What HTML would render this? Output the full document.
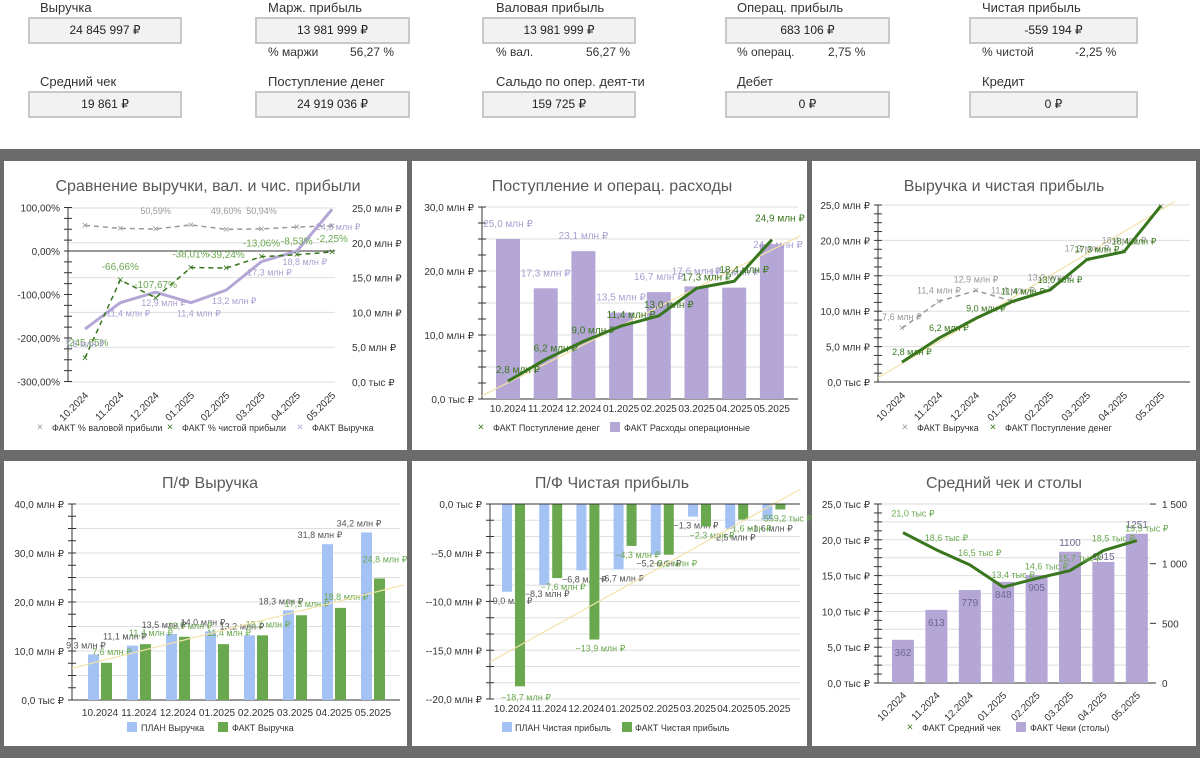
<!DOCTYPE html>
<html><head><meta charset="utf-8">
<style>
body{margin:0;width:1200px;height:758px;background:#fff;position:relative;overflow:hidden;font-family:"Liberation Sans","DejaVu Sans",sans-serif;color:#222}
.lbl{position:absolute;font-size:13px;color:#333}
.box{position:absolute;height:23px;background:#f2f2f2;border:2px solid #c8c8c8;font-size:12px;text-align:center;line-height:23px;color:#222}
.band{position:absolute;background:#6b6b6b}
svg{position:absolute;left:0;top:0}
</style></head><body>
<div class="lbl" style="left:40px;top:0px">Выручка</div>
<div class="box" style="left:28px;top:17px;width:150px">24 845 997 ₽</div>
<div class="lbl" style="left:268px;top:0px">Марж. прибыль</div>
<div class="box" style="left:255px;top:17px;width:151px">13 981 999 ₽</div>
<div class="lbl" style="left:268px;top:45px;font-size:12px">% маржи</div>
<div class="lbl" style="left:350px;top:45px;font-size:12px">56,27 %</div>
<div class="lbl" style="left:496px;top:0px">Валовая прибыль</div>
<div class="box" style="left:482px;top:17px;width:150px">13 981 999 ₽</div>
<div class="lbl" style="left:496px;top:45px;font-size:12px">% вал.</div>
<div class="lbl" style="left:586px;top:45px;font-size:12px">56,27 %</div>
<div class="lbl" style="left:737px;top:0px">Операц. прибыль</div>
<div class="box" style="left:725px;top:17px;width:161px">683 106 ₽</div>
<div class="lbl" style="left:737px;top:45px;font-size:12px">% операц.</div>
<div class="lbl" style="left:828px;top:45px;font-size:12px">2,75 %</div>
<div class="lbl" style="left:982px;top:0px">Чистая прибыль</div>
<div class="box" style="left:969px;top:17px;width:165px">-559 194 ₽</div>
<div class="lbl" style="left:982px;top:45px;font-size:12px">% чистой</div>
<div class="lbl" style="left:1075px;top:45px;font-size:12px">-2,25 %</div>
<div class="lbl" style="left:40px;top:74px">Средний чек</div>
<div class="box" style="left:28px;top:91px;width:150px">19 861 ₽</div>
<div class="lbl" style="left:268px;top:74px">Поступление денег</div>
<div class="box" style="left:255px;top:91px;width:151px">24 919 036 ₽</div>
<div class="lbl" style="left:496px;top:74px">Сальдо по опер. деят-ти</div>
<div class="box" style="left:482px;top:91px;width:150px">159 725 ₽</div>
<div class="lbl" style="left:737px;top:74px">Дебет</div>
<div class="box" style="left:725px;top:91px;width:161px">0 ₽</div>
<div class="lbl" style="left:982px;top:74px">Кредит</div>
<div class="box" style="left:969px;top:91px;width:165px">0 ₽</div>

<div class="band" style="left:0;top:149px;width:1200px;height:12px"></div>
<div class="band" style="left:0;top:450px;width:1200px;height:11px"></div>
<div class="band" style="left:0;top:746px;width:1200px;height:12px"></div>
<div class="band" style="left:407px;top:149px;width:5px;height:609px"></div>
<div class="band" style="left:807px;top:149px;width:5px;height:609px"></div>
<div class="band" style="left:1196px;top:149px;width:4px;height:609px"></div>
<div class="band" style="left:0;top:149px;width:4px;height:609px"></div>

<svg id="c" width="1200" height="758" font-family="Liberation Sans, DejaVu Sans, sans-serif"></svg>
<script>
const cats=['10.2024','11.2024','12.2024','01.2025','02.2025','03.2025','04.2025','05.2025'];
// chart 1
const c1Gross=[59,52,50.59,60,49.60,50.94,55,58];
const c1Net=[-245.65,-66.66,-107.67,-38.01,-39.24,-13.06,-8.53,-2.25];
const c1Rev=[7.6,11.4,12.9,11.4,13.2,17.3,18.8,24.8];
const c1LeftTicks=[100,0,-100,-200,-300];
const c1LeftLabels=['100,00%','0,00%','-100,00%','-200,00%','-300,00%'];
const c1RightTicks=[25,20,15,10,5,0];
const c1RightLabels=['25,0 млн ₽','20,0 млн ₽','15,0 млн ₽','10,0 млн ₽','5,0 млн ₽','0,0 тыс ₽'];
// chart 2
const c2Exp=[25.0,17.3,23.1,13.5,16.7,17.6,17.4,24.2];
const c2Inflow=[2.8,6.2,9.0,11.4,13.0,17.3,18.4,24.9];
const c2Ticks=[0,10,20,30];
const c2Labels=['0,0 тыс ₽','10,0 млн ₽','20,0 млн ₽','30,0 млн ₽'];
// chart 3
const c3Rev=[7.6,11.4,12.9,11.4,13.2,17.3,18.4,24.8];
const c3Inflow=[2.8,6.2,9.0,11.4,13.0,17.3,18.4,24.9];
const c3Ticks=[0,5,10,15,20,25];
const c3Labels=['0,0 тыс ₽','5,0 млн ₽','10,0 млн ₽','15,0 млн ₽','20,0 млн ₽','25,0 млн ₽'];
// chart 4
const c4Plan=[9.3,11.1,13.5,14.0,13.2,18.3,31.8,34.2];
const c4Fact=[7.6,11.4,12.9,11.4,13.2,17.3,18.8,24.8];
const c4Ticks=[0,10,20,30,40];
const c4Labels=['0,0 тыс ₽','10,0 млн ₽','20,0 млн ₽','30,0 млн ₽','40,0 млн ₽'];
// chart 5
const c5Plan=[-9.0,-8.3,-6.8,-6.7,-5.2,-1.3,-2.5,-1.6];
const c5Fact=[-18.7,-7.6,-13.9,-4.3,-5.2,-2.3,-1.6,-0.5592];
const c5Ticks=[0,-5,-10,-15,-20];
const c5Labels=['0,0 тыс ₽','--5,0 млн ₽','--10,0 млн ₽','--15,0 млн ₽','--20,0 млн ₽'];
// chart 6
const c6Checks=[362,613,779,848,905,1100,1015,1251];
const c6Avg=[21.0,18.6,16.5,13.4,14.6,15.7,18.5,19.9];
const c6LeftTicks=[0,5,10,15,20,25];
const c6LeftLabels=['0,0 тыс ₽','5,0 тыс ₽','10,0 тыс ₽','15,0 тыс ₽','20,0 тыс ₽','25,0 тыс ₽'];
const c6RightTicks=[0,500,1000,1500];
const c6RightLabels=['0','500','1 000','1 500'];

const S=document.getElementById('c');const NS='http://www.w3.org/2000/svg';
function el(tag,at,name,txt){const e=document.createElementNS(NS,tag);for(const k in at)e.setAttribute(k,at[k]);


if(txt!==undefined)e.textContent=txt;S.appendChild(e);return e;}
function T(x,y,s,name,o){o=o||{};return el('text',Object.assign({x:x,y:y,'font-size':o.fs||10,fill:o.fill||'#333','text-anchor':o.a||'middle'},o.rot?{transform:'rotate(-45 '+x+' '+y+')'}:{}),name,s);}
function L(x1,y1,x2,y2,c,w,name,d){return el('line',Object.assign({x1:x1,y1:y1,x2:x2,y2:y2,stroke:c,'stroke-width':w},d?{'stroke-dasharray':d}:{}),name);}
function R(x,y,w,h,c,name){return el('rect',{x:x,y:Math.min(y,y+h),width:w,height:Math.abs(h),fill:c},name);}
function P(pts,c,w,name,d){return el('polyline',Object.assign({points:pts.map(p=>p.join(',')).join(' '),fill:'none',stroke:c,'stroke-width':w,'stroke-linejoin':'round'},d?{'stroke-dasharray':d}:{}),name);}
function X(x,y,c,name){return T(x,y+3.5,'×',name,{fill:c,fs:11});}
const fm=v=>v.toFixed(1).replace('.',',')+' млн ₽';
const ft=v=>v.toFixed(1).replace('.',',')+' тыс ₽';
const fp=v=>v.toFixed(2).replace('.',',')+'%';
const GRID='#dedede',PUR='#b4a7d6',GRN='#38761d',GRN2='#6aa84f',BLU='#a4c2f4',TR='#f3e2a9';

// ---------- chart 1
T(208,191,'Сравнение выручки, вал. и чис. прибыли','c1-title',{fs:16,fill:'#595959'});
const c1x=i=>85+i*35.3, c1yL=p=>251-p*0.435, c1yR=v=>382-v*6.96;
c1RightTicks.forEach((v,i)=>{L(68,c1yR(v),335,c1yR(v),GRID,1,'c1-grid');T(352,c1yR(v)+4,c1RightLabels[i],'c1-right-tick',{a:'start'});});
c1LeftTicks.forEach((v,i)=>T(60,c1yL(v)+4,c1LeftLabels[i],'c1-left-tick',{a:'end'}));
L(68,c1yL(100),68,c1yL(-300),'#333',1,'c1-y-axis');
for(let k=0;k<=16;k++)L(64,c1yL(100-k*25),72,c1yL(100-k*25),'#333',1,'c1-minor-tick');
L(68,c1yL(0),335,c1yL(0),'#333',1,'c1-zero-line');
cats.forEach((c,i)=>T(c1x(i)+4,396,c,'c1-x-label',{a:'end',rot:1}));
P(c1Rev.map((v,i)=>[c1x(i),c1yR(v)]),PUR,3,'c1-revenue-line');
P(c1Gross.map((v,i)=>[c1x(i),c1yL(v)]),'#999',1.5,'c1-gross-line','5,4');
c1Gross.forEach((v,i)=>X(c1x(i),c1yL(v),'#999','c1-gross-point'));
[2,4,5].forEach(i=>T(c1x(i),214,fp(c1Gross[i]),'c1-gross-label',{fill:'#999',fs:9}));
P(c1Net.map((v,i)=>[c1x(i),c1yL(v)]),GRN,1.5,'c1-net-line','5,4');
c1Net.forEach((v,i)=>{X(c1x(i),c1yL(v),GRN,'c1-net-point');T(c1x(i)+(i==0?2:0),c1yL(v)-(i==0?12:10),fp(v),'c1-net-label',{fill:GRN2,fs:10});});
c1Rev.forEach((v,i)=>{if(i<7)T(c1x(i)+(i==0?0:8),c1yR(v)+(i==0?18:14),fm(v),'c1-rev-label',{fill:'#a99fcf',fs:9});});
T(c1x(7)+6,c1yL(58)+4,'24,8 млн ₽','c1-rev-label',{fill:'#a99fcf',fs:9,a:'middle'});
X(40,427,'#999','c1-legend-mark');T(52,431,'ФАКТ % валовой прибыли','c1-legend',{a:'start',fs:9});
X(170,427,GRN,'c1-legend-mark');T(182,431,'ФАКТ % чистой прибыли','c1-legend',{a:'start',fs:9});
X(300,427,PUR,'c1-legend-mark');T(312,431,'ФАКТ Выручка','c1-legend',{a:'start',fs:9});

// ---------- chart 2
T(612,191,'Поступление и операц. расходы','c2-title',{fs:16,fill:'#595959'});
const c2x=i=>508+i*37.7, c2y=v=>399-v*6.4;
for(let v=0;v<=30;v+=5)L(482,c2y(v),798,c2y(v),GRID,1,'c2-grid');
c2Ticks.forEach((v,i)=>T(474,c2y(v)+4,c2Labels[i],'c2-y-tick',{a:'end'}));
L(482,c2y(30),482,c2y(0),'#333',1,'c2-y-axis');
for(let v=0;v<=30;v+=2.5)L(478,c2y(v),486,c2y(v),'#333',1,'c2-minor-tick');
L(482,c2y(0),798,c2y(0),'#333',1,'c2-x-axis');
cats.forEach((c,i)=>T(c2x(i),412,c,'c2-x-label'));
c2Exp.forEach((v,i)=>{R(c2x(i)-12,c2y(v),24,c2y(0)-c2y(v),PUR,'c2-expense-bar');T(c2x(i)-(i==7?-6:0),c2y(v)-(i==7?-4:12),fm(v),'c2-exp-label',{fill:'#a99fcf',fs:10});});
L(482,c2y(0.5),800,c2y(25.5),TR,1.2,'c2-trendline');
P(c2Inflow.map((v,i)=>[c2x(i),c2y(v)]),GRN,3,'c2-inflow-line');
c2Inflow.forEach((v,i)=>T(c2x(i)+(i<7?10:8),c2y(v)-(i==7?18:8),fm(v),'c2-inflow-label',{fill:GRN,fs:10}));
X(481,427,GRN,'c2-legend-mark');T(493,431,'ФАКТ Поступление денег','c2-legend',{a:'start',fs:9});
R(610,422,10,10,PUR,'c2-legend-mark');T(624,431,'ФАКТ Расходы операционные','c2-legend',{a:'start',fs:9});

// ---------- chart 3
T(1004,191,'Выручка и чистая прибыль','c3-title',{fs:16,fill:'#595959'});
const c3x=i=>902+i*37, c3y=v=>382-v*7.08;
c3Ticks.forEach((v,i)=>{L(878,c3y(v),1190,c3y(v),GRID,1,'c3-grid');T(870,c3y(v)+4,c3Labels[i],'c3-y-tick',{a:'end'});});
L(878,c3y(25),878,c3y(0),'#333',1,'c3-y-axis');
for(let v=0;v<=25;v+=1.25)L(874,c3y(v),882,c3y(v),'#333',1,'c3-minor-tick');
L(878,c3y(0),1190,c3y(0),'#333',1,'c3-x-axis');
cats.forEach((c,i)=>T(c3x(i)+4,396,c,'c3-x-label',{a:'end',rot:1}));
L(878,c3y(0.6),1175,c3y(25.5),TR,1.2,'c3-trendline');
P(c3Rev.map((v,i)=>[c3x(i),c3y(v)]),'#999',1.5,'c3-revenue-line','5,4');
c3Rev.forEach((v,i)=>{X(c3x(i),c3y(v),'#999','c3-rev-point');if(i<7)T(c3x(i),c3y(v)-8,fm(v),'c3-rev-label',{fill:'#999',fs:9});});
P(c3Inflow.map((v,i)=>[c3x(i),c3y(v)]),GRN,3,'c3-inflow-line');
c3Inflow.forEach((v,i)=>{if(i<7)T(c3x(i)+10,c3y(v)-7,fm(v),'c3-inflow-label',{fill:GRN,fs:9});});
X(905,427,'#999','c3-legend-mark');T(917,431,'ФАКТ Выручка','c3-legend',{a:'start',fs:9});
X(993,427,GRN,'c3-legend-mark');T(1005,431,'ФАКТ Поступление денег','c3-legend',{a:'start',fs:9});

// ---------- chart 4
T(210,488,'П/Ф Выручка','c4-title',{fs:16,fill:'#595959'});
const c4x=i=>100+i*39, c4y=v=>700-v*4.9;
for(let v=0;v<=40;v+=5)L(72,c4y(v),400,c4y(v),GRID,1,'c4-grid');
c4Ticks.forEach((v,i)=>T(64,c4y(v)+4,c4Labels[i],'c4-y-tick',{a:'end'}));
L(72,c4y(40),72,c4y(0),'#333',1,'c4-y-axis');
for(let v=0;v<=40;v+=2.5)L(68,c4y(v),76,c4y(v),'#333',1,'c4-minor-tick');
L(72,c4y(0),400,c4y(0),'#333',1,'c4-x-axis');
cats.forEach((c,i)=>T(c4x(i),716,c,'c4-x-label'));
c4Plan.forEach((v,i)=>{R(c4x(i)-12,c4y(v),11,c4y(0)-c4y(v),BLU,'c4-plan-bar');T(c4x(i)-14,c4y(v)-6,fm(v),'c4-plan-label',{fill:'#555',fs:9});});
c4Fact.forEach((v,i)=>{R(c4x(i)+1,c4y(v),11,c4y(0)-c4y(v),GRN2,'c4-fact-bar');T(c4x(i)+12,c4y(v)-(i==7?16:8),fm(v),'c4-fact-label',{fill:GRN2,fs:9});});
L(72,c4y(6.5),404,c4y(23.5),TR,1.2,'c4-trendline');
R(127,722,10,10,BLU,'c4-legend-mark');T(141,731,'ПЛАН Выручка','c4-legend',{a:'start',fs:9});
R(218,722,10,10,GRN2,'c4-legend-mark');T(232,731,'ФАКТ Выручка','c4-legend',{a:'start',fs:9});

// ---------- chart 5
T(612,488,'П/Ф Чистая прибыль','c5-title',{fs:16,fill:'#595959'});
const c5x=i=>512+i*37.2, c5y=v=>504-v*9.75;
for(let k=0;k<=12;k++)L(490,c5y(-k*20/12),800,c5y(-k*20/12),GRID,1,'c5-grid');
c5Ticks.forEach((v,i)=>T(482,c5y(v)+4,c5Labels[i],'c5-y-tick',{a:'end'}));
L(490,c5y(0),490,c5y(-20),'#333',1,'c5-y-axis');
for(let k=0;k<=12;k++)L(486,c5y(-k*20/12),494,c5y(-k*20/12),'#333',1,'c5-minor-tick');
cats.forEach((c,i)=>T(c5x(i),712,c,'c5-x-label'));
c5Plan.forEach((v,i)=>{R(c5x(i)-10,c5y(0),10,c5y(v)-c5y(0),BLU,'c5-plan-bar');T(c5x(i)-2,c5y(v)+12,fm(v).replace('-','−'),'c5-plan-label',{fill:'#555',fs:9});});
c5Fact.forEach((v,i)=>{R(c5x(i)+3,c5y(0),10,c5y(v)-c5y(0),GRN2,'c5-fact-bar');T(c5x(i)+14,c5y(v)+(i==0?14:12),i==7?'-559,2 тыс ₽':fm(v).replace('-','−'),'c5-fact-label',{fill:GRN2,fs:9});});
L(490,c5y(-16.2),800,c5y(1.5),TR,1.2,'c5-trendline');
L(490,c5y(0),800,c5y(0),'#333',1,'c5-x-axis');
R(502,722,10,10,BLU,'c5-legend-mark');T(515,731,'ПЛАН Чистая прибыль','c5-legend',{a:'start',fs:9});
R(622,722,10,10,GRN2,'c5-legend-mark');T(635,731,'ФАКТ Чистая прибыль','c5-legend',{a:'start',fs:9});

// ---------- chart 6
T(1004,488,'Средний чек и столы','c6-title',{fs:16,fill:'#595959'});
const c6x=i=>903+i*33.4, c6yL=v=>683-v*7.16, c6yR=v=>683-v*0.1193;
for(let v=0;v<=25;v+=2.5)L(878,c6yL(v),1150,c6yL(v),GRID,1,'c6-grid');
c6LeftTicks.forEach((v,i)=>T(870,c6yL(v)+4,c6LeftLabels[i],'c6-left-tick',{a:'end'}));
c6RightTicks.forEach((v,i)=>T(1162,c6yR(v)+4,c6RightLabels[i],'c6-right-tick',{a:'start'}));
L(878,c6yL(25),878,c6yL(0),'#333',1,'c6-y-axis');
for(let v=0;v<=25;v+=1.25)L(874,c6yL(v),882,c6yL(v),'#333',1,'c6-minor-tick');
c6RightTicks.forEach(v=>L(1150,c6yR(v),1156,c6yR(v),'#333',1,'c6-right-tick-mark'));
L(878,c6yL(0),1156,c6yL(0),'#333',1,'c6-x-axis');
cats.forEach((c,i)=>T(c6x(i)+4,696,c,'c6-x-label',{a:'end',rot:1}));
c6Checks.forEach((v,i)=>{R(c6x(i)-11,c6yR(v),22,c6yR(0)-c6yR(v),PUR,'c6-checks-bar');T(c6x(i),c6yR(v)+(i==5||i==7?-6:(i==6?-2:16)),String(v),'c6-checks-label',{fill:'#6e6690',fs:10});});
P(c6Avg.map((v,i)=>[c6x(i),c6yL(v)]),GRN,3,'c6-avg-line');
c6Avg.forEach((v,i)=>T(c6x(i)+10,c6yL(v)-(i==0?16:9),ft(v),'c6-avg-label',{fill:GRN2,fs:9}));
X(910,727,GRN,'c6-legend-mark');T(922,731,'ФАКТ Средний чек','c6-legend',{a:'start',fs:9});
R(1016,722,10,10,PUR,'c6-legend-mark');T(1030,731,'ФАКТ Чеки (столы)','c6-legend',{a:'start',fs:9});
</script>
</body></html>
